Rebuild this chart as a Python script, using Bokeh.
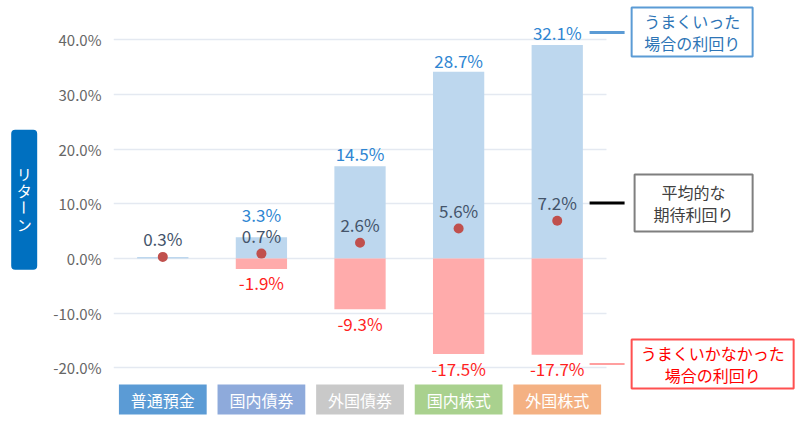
from math import pi
from bokeh.embed import file_html
from bokeh.resources import INLINE
from bokeh.plotting import figure
from bokeh.layouts import row
from bokeh.models import ColumnDataSource, Range1d, FixedTicker, PrintfTickFormatter
from bokeh.core.properties import value

categories = ["普通預金", "国内債券", "外国債券", "国内株式", "外国株式"]
cat_colors = ["#5b9bd5", "#8eaadb", "#c9c9c9", "#a9d18e", "#f4b183"]

# bar extents (%)
upper_bar = [0.3, 3.9, 16.9, 34.2, 39.1]
lower_bar = [0.0, -1.9, -9.3, -17.5, -17.6]
mean_pt = [0.3, 0.9, 2.9, 5.5, 6.9]

# printed returns (%)
upper_ret = [None, 3.3, 14.5, 28.7, 32.1]
mean_ret = [0.3, 0.7, 2.6, 5.6, 7.2]
lower_ret = [None, -1.9, -9.3, -17.5, -17.7]

y_ticks = [-20, -10, 0, 10, 20, 30, 40]
y_title = "リターン"

FONT = "Noto Sans CJK JP"
xs = list(range(len(categories)))

# ---- small panel on the left holding the vertical title box ----
side = figure(width=45, height=426, x_range=Range1d(0, 45), y_range=Range1d(426, 0),
              output_backend="svg", toolbar_location=None, x_axis_location=None,
              y_axis_location=None, min_border=0)
side.outline_line_color = None
side.grid.visible = False
side.rect(x=23.7, y=199.3, width=26, height=140, fill_color="#0070c0", line_color=None,
          border_radius=4)
char_y = [172.5, 190, 207, 223.5]
for ch, cy in zip(y_title, char_y):
    side.text(x=[23.7], y=[cy], text=[ch], angle=(-pi / 2 if ch == "ー" else 0),
              text_align="center", text_baseline="middle", text_color="white",
              text_font=value(FONT), text_font_size="15px")

# ---- main chart ----
p = figure(x_range=Range1d(-0.5, 6.467), y_range=Range1d(-30.75, 47.23), width=755, height=426,
           output_backend="svg", toolbar_location=None, x_axis_location=None,
           min_border_left=68, min_border_right=0, min_border_top=0, min_border_bottom=0)
p.outline_line_color = None
p.xgrid.grid_line_color = None
p.ygrid.grid_line_color = "#e4e9f1"
p.ygrid.grid_line_width = 1.5
p.ygrid.cross_bounds = (-0.5, 4.5)
p.yaxis.ticker = FixedTicker(ticks=y_ticks)
p.yaxis.formatter = PrintfTickFormatter(format="%.1f%%")
p.yaxis.axis_line_color = None
p.yaxis.major_tick_line_color = None
p.yaxis.minor_tick_line_color = None
p.yaxis.major_tick_out = 0
p.yaxis.minor_tick_out = 0
p.yaxis.major_label_standoff = 12
p.yaxis.major_label_text_color = "#666666"
p.yaxis.major_label_text_font = FONT
p.yaxis.major_label_text_font_size = "15px"

src = ColumnDataSource(data=dict(x=xs, cat=categories, up=upper_bar, lo=lower_bar,
                                 mean=mean_pt, color=cat_colors))
p.vbar(x="x", top="up", bottom=0, width=0.52, source=src, fill_color="#bdd7ee", line_color=None)
p.vbar(x="x", top=0, bottom="lo", width=0.52, source=src, fill_color="#ffabab", line_color=None)
p.scatter(x="x", y="mean", size=10, source=src, fill_color="#c0504d", line_color=None)

# value labels
up_idx = [i for i, v in enumerate(upper_ret) if v is not None]
up_dy = {1: -23, 2: -13, 3: -11, 4: -12}
p.text(x=[xs[i] for i in up_idx], y=[upper_bar[i] for i in up_idx],
       text=["%.1f%%" % upper_ret[i] for i in up_idx], y_offset=[up_dy[i] for i in up_idx],
       text_align="center", text_baseline="middle", text_color="#2f86d2",
       text_font=value(FONT), text_font_size="17px")
p.text(x=xs, y=mean_pt, text=["%.1f%%" % v for v in mean_ret], y_offset=-18,
       text_align="center", text_baseline="middle", text_color="#44546a",
       text_font=value(FONT), text_font_size="17px")
lo_idx = [i for i, v in enumerate(lower_ret) if v is not None]
p.text(x=[xs[i] for i in lo_idx], y=[lower_bar[i] for i in lo_idx],
       text=["%.1f%%" % lower_ret[i] for i in lo_idx], y_offset=14,
       text_align="center", text_baseline="middle", text_color="#ff1f1f",
       text_font=value(FONT), text_font_size="17px")

# category boxes below the plot
p.rect(x="x", y=-25.81, width=0.89, height=5.49, source=src, fill_color="color", line_color=None)
p.text(x=xs, y=-25.81, text=categories, text_align="center", text_baseline="middle",
       text_color="white", text_font=value(FONT), text_font_size="16px")

# right-hand explanations
notes = ["うまくいった\n場合の利回り", "平均的な\n期待利回り", "うまくいかなかった\n場合の利回り"]
note_text = ["#2e75b6", "#404040", "#ff0000"]
note_border = ["#5b9bd5", "#7f7f7f", "#ff5050"]
note_lead = ["#5b9bd5", "#000000", "#ff9f9f"]
note_x = [5.368, 5.383, 5.576]
note_y = [41.46, 10.16, -19.31]
p.rect(x=note_x, y=note_y, width=[1.227, 1.197, 1.643], height=[8.97, 10.43, 8.97],
       fill_color="white", line_color=note_border, line_width=2)
p.text(x=note_x, y=note_y, text=notes,
       text_align="center", text_baseline="middle", text_color=note_text,
       text_font=value(FONT), text_font_size="16px", text_line_height=0.88)
p.segment(x0=4.328, x1=4.683, y0=[41.37, 10.16, -19.31], y1=[41.37, 10.16, -19.31],
          line_color=note_lead, line_width=[3, 3, 2])

open("out.html", "w").write(file_html(row(side, p), INLINE))
